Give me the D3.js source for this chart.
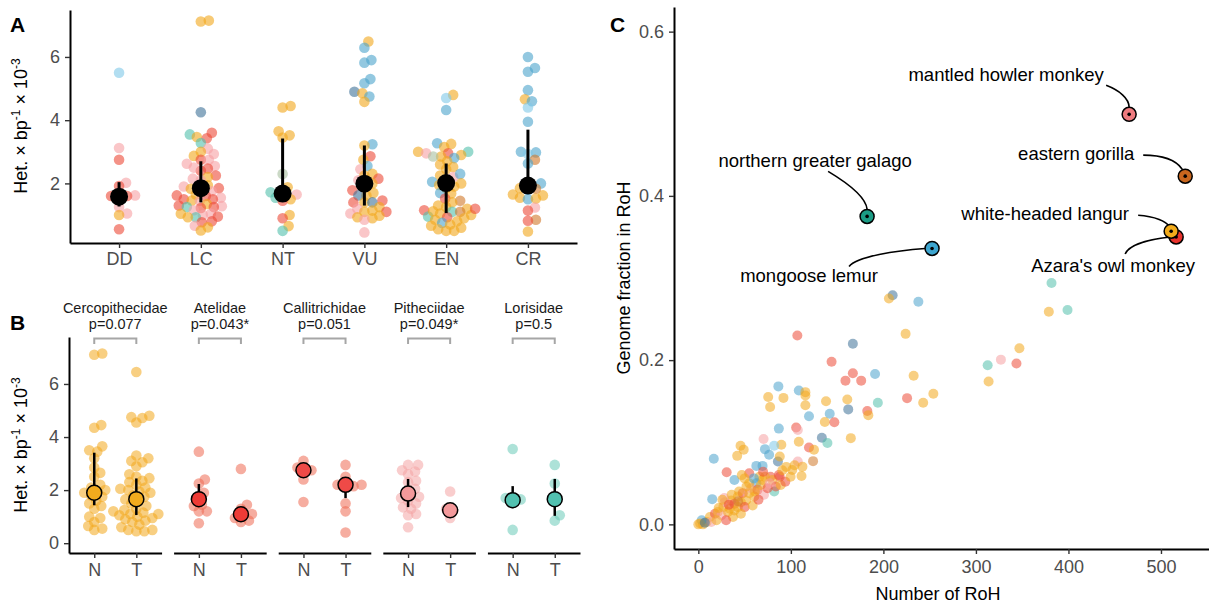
<!DOCTYPE html>
<html>
<head>
<meta charset="utf-8">
<script src="https://cdn.jsdelivr.net/npm/d3@7"></script>
<style>
  body { margin: 0; background: #fff; }
  svg { font-family: "Liberation Sans", Arial, Helvetica, sans-serif; }
</style>
</head>
<body>
<svg id="fig" width="1209" height="606"></svg>
<script>
// ---- data: panel A (heterozygosity by IUCN status) ----
const statusCats = ['DD', 'LC', 'NT', 'VU', 'EN', 'CR'];
const hetDD = [[5.5,'l'],[3.12,'p'],[2.75,'r'],[2.02,'p'],[1.92,'r'],[1.62,'p'],[1.6,'r'],[1.58,'p'],[1.6,'r'],[1.25,'p'],[1.05,'p'],[1.0,'o'],[0.55,'r']];
const hetLC = [[7.15,'o'],[7.12,'o'],[4.25,'d'],[3.6,'r'],[3.55,'t'],[3.47,'o'],[3.43,'r'],[3.28,'t'],[3.1,'p'],[3.0,'o'],[2.93,'p'],[2.87,'o'],[2.75,'r'],[2.75,'p'],[2.62,'p'],[2.55,'p'],[2.47,'r'],[2.4,'r'],[2.5,'p'],[2.25,'r'],[2.2,'o'],[2.15,'p'],[2.1,'p'],[1.94,'o'],[1.9,'p'],[1.85,'r'],[1.83,'o'],[1.8,'o'],[1.75,'p'],[1.62,'r'],[1.65,'o'],[1.6,'r'],[1.55,'p'],[1.5,'r'],[1.5,'r'],[1.46,'o'],[1.45,'p'],[1.35,'o'],[1.3,'r'],[1.28,'p'],[1.25,'r'],[1.25,'t'],[1.22,'r'],[1.15,'p'],[1.04,'p'],[1.04,'o'],[1.0,'p'],[0.93,'t'],[0.93,'o'],[0.95,'r'],[0.8,'r'],[0.77,'r'],[0.66,'p'],[0.61,'o'],[0.51,'o']];
const hetNT = [[4.45,'o'],[4.4,'o'],[3.65,'o'],[3.52,'o'],[3.45,'o'],[2.3,'g'],[1.88,'o'],[1.7,'r'],[1.72,'t'],[1.65,'p'],[1.55,'t'],[1.5,'o'],[1.45,'r'],[1.0,'o'],[0.9,'r'],[0.65,'o'],[0.5,'t']];
const hetVU = [[6.49,'o'],[6.29,'b'],[5.9,'b'],[5.82,'b'],[5.3,'b'],[5.17,'b'],[4.9,'d'],[4.85,'o'],[4.75,'b'],[4.58,'o'],[3.24,'b'],[3.2,'o'],[2.86,'r'],[2.75,'o'],[2.55,'b'],[2.45,'p'],[2.3,'o'],[2.25,'o'],[2.15,'r'],[2.1,'p'],[2.0,'o'],[1.95,'o'],[1.78,'r'],[1.7,'o'],[1.62,'o'],[1.62,'d'],[1.46,'r'],[1.4,'o'],[1.4,'d'],[1.4,'r'],[1.25,'o'],[1.2,'p'],[1.14,'o'],[1.1,'o'],[1.1,'r'],[1.05,'p'],[0.98,'o'],[0.93,'o'],[0.9,'o'],[0.85,'p'],[0.45,'p']];
const hetEN = [[4.8,'o'],[4.7,'l'],[4.32,'b'],[3.27,'b'],[3.25,'o'],[3.15,'o'],[3.0,'t'],[3.0,'o'],[2.95,'r'],[2.95,'p'],[2.9,'o'],[2.85,'o'],[2.85,'g'],[2.8,'b'],[2.7,'o'],[2.6,'o'],[2.52,'o'],[2.45,'o'],[2.2,'p'],[2.3,'b'],[2.25,'o'],[2.1,'o'],[2.05,'b'],[2.0,'o'],[1.95,'o'],[1.9,'o'],[1.85,'o'],[1.7,'b'],[1.68,'o'],[1.52,'r'],[1.45,'k'],[1.4,'o'],[1.3,'o'],[1.25,'o'],[1.2,'o'],[1.15,'r'],[1.1,'t'],[1.1,'k'],[1.05,'o'],[1.0,'o'],[0.95,'t'],[0.93,'r'],[0.9,'o'],[0.85,'o'],[0.8,'o'],[0.75,'b'],[0.7,'o'],[0.66,'o'],[0.6,'o'],[0.55,'o'],[0.5,'o'],[0.5,'o'],[1.12,'o'],[1.2,'r']];
const hetCR = [[6.0,'b'],[5.65,'b'],[5.53,'b'],[4.95,'b'],[4.66,'o'],[4.6,'b'],[4.4,'l'],[3.95,'b'],[3.0,'b'],[2.98,'b'],[2.93,'l'],[2.75,'k'],[2.63,'b'],[2.0,'b'],[1.85,'o'],[1.83,'k'],[1.8,'b'],[1.65,'o'],[1.62,'o'],[1.55,'o'],[1.5,'b'],[1.52,'o'],[1.24,'p'],[1.14,'r'],[0.85,'k'],[0.82,'r'],[0.48,'o']];
const statusMean = [1.58, 1.85, 1.68, 1.99, 2.01, 1.93];
const statusLo = [1.27, 1.4, 1.5, 1.3, 1.06, 1.7];
const statusHi = [2.04, 2.7, 3.42, 3.2, 2.63, 3.7];
const yTicksA = [2, 4, 6];

// ---- data: panel B (N vs T by family) ----
const famNames = ['Cercopithecidae', 'Atelidae', 'Callitrichidae', 'Pitheciidae', 'Lorisidae'];
const famP = ['p=0.077', 'p=0.043*', 'p=0.051', 'p=0.049*', 'p=0.5'];
const groupsB = ['N', 'T'];
const cercN = [7.15,7.1,4.45,4.35,3.65,3.5,3.45,3.2,2.85,2.65,2.5,2.2,2.1,2.0,1.95,1.9,1.8,1.75,1.6,1.5,1.4,1.3,1.0,0.95,0.8,0.65,0.55,0.5];
const cercT = [6.45,4.8,4.75,4.72,4.55,3.3,3.2,3.1,3.05,2.9,2.6,2.5,2.45,2.35,2.3,2.2,2.1,2.05,2.0,1.95,1.9,1.8,1.75,1.65,1.6,1.5,1.4,1.3,1.25,1.2,1.15,1.1,1.1,1.05,1.0,0.95,0.9,0.85,0.8,0.7,0.6,0.5,0.45,0.45,0.5];
const ateN = [3.45,2.4,2.25,1.9,1.7,1.45,1.4,1.2,1.2,0.75];
const ateT = [2.8,1.45,1.3,1.1,1.05,0.95,0.85,0.8];
const calN = [3.1,2.85,2.75,2.7,2.4,1.55];
const calT = [2.95,2.5,2.2,2.15,2.2,2.15,1.5,1.2,0.4];
const pitN = [2.95,2.95,2.75,2.7,2.6,2.35,2.3,2.05,1.95,1.75,1.7,1.6,1.5,1.35,1.3,1.1,1.05,0.6];
const pitT = [1.95,1.3,1.2,0.95];
const lorN = [3.55,1.7,1.65,1.6,0.5];
const lorT = [2.95,2.25,1.05,0.85];
const famMean = [[1.9,1.66],[1.66,1.09],[2.75,2.2],[1.87,1.24],[1.62,1.66]];
const famLo = [[1.43,1.06],[1.37,0.95],[2.6,1.7],[1.36,1.15],[1.32,1.03]];
const famHi = [[3.41,2.44],[2.23,1.2],[2.9,2.35],[2.42,1.35],[2.15,2.42]];
const yTicksB = [0, 2, 4, 6];

// ---- data: panel C (number of RoH vs genome fraction) ----
const rohPts = [
  [381.7,0.294,'t'],[210,0.279,'d'],[206,0.275,'o'],[237.8,0.271,'b'],[378.8,0.259,'o'],[399,0.261,'t'],
  [347,0.2144,'o'],[327,0.2006,'p'],[312.7,0.1937,'t'],[343.8,0.1958,'r'],[232.7,0.181,'o'],[313.7,0.174,'o'],
  [225.6,0.1537,'r'],[243,0.148,'o'],[254,0.159,'o'],[224,0.232,'o'],
  [107,0.230,'r'],[167,0.220,'d'],[144,0.198,'r'],[167,0.184,'r'],[159,0.175,'r'],[176,0.175,'r'],[191,0.183,'b'],
  [86.5,0.168,'b'],[108.6,0.163,'b'],[115.7,0.161,'o'],[115.7,0.157,'o'],[75.5,0.155,'o'],[92,0.154,'o'],[77.6,0.143,'o'],
  [115.7,0.145,'o'],[138,0.150,'o'],[161,0.152,'o'],[162,0.140,'d'],[194,0.148,'t'],[182.6,0.138,'r'],[183.7,0.133,'o'],
  [142,0.1346,'b'],[119.6,0.1317,'b'],[136.7,0.1247,'o'],[147,0.1243,'r'],[87,0.1166,'b'],[105.7,0.118,'r'],[107.5,0.115,'p'],
  [70.5,0.104,'p'],[133.5,0.1055,'d'],[139.5,0.099,'t'],[108.6,0.1006,'o'],[164.8,0.105,'o'],[45.6,0.0957,'o'],[49,0.091,'o'],
  [42,0.0834,'o'],[89.7,0.097,'o'],[72,0.0916,'b'],[81.9,0.0957,'l'],[76.5,0.0847,'b'],[119.6,0.0937,'r'],[125,0.0908,'o'],
  [124,0.077,'k'],[16.7,0.0798,'b'],[86,0.0765,'d'],[88,0.0826,'o'],[30.6,0.0634,'r'],[62.7,0.0712,'b'],[69.4,0.0712,'b'],
  [107.5,0.0765,'p'],[101.5,0.0663,'o'],[112.5,0.0703,'o'],[111.5,0.0589,'o'],[39,0.054,'b'],[55,0.0622,'r'],[47,0.060,'o'],
  [78,0.058,'r'],[88,0.058,'r'],[66,0.058,'o'],[72,0.058,'o'],[62.7,0.05,'b'],[82,0.04,'t'],[15,0.0307,'b'],
  [5,0,'o'],[9,0.003,'o'],[3.6,0.005,'b'],[12.5,0.009,'o'],[18,0.013,'r'],[21,0.015,'o'],[27,0.021,'o'],[28.5,0.027,'p'],
  [34,0.019,'o'],[35.6,0.029,'o'],[39,0.025,'r'],[42.7,0.034,'o'],[46,0.027,'o'],[48,0.038,'r'],[51.6,0.029,'o'],[55,0.038,'o'],
  [57,0.044,'p'],[60.5,0.034,'o'],[64,0.042,'r'],[67.6,0.048,'o'],[71,0.036,'p'],[69.4,0.054,'o'],[74.8,0.044,'r'],[80,0.054,'o'],
  [83.7,0.046,'r'],[89,0.048,'o'],[87,0.06,'r'],[90.8,0.066,'o'],[94,0.052,'r'],[99.7,0.058,'o'],[42.7,0.021,'o'],[14,0.003,'p'],
  [25,0.011,'p'],[32,0.015,'o'],[39,0.017,'o'],[50,0.021,'r'],[58.7,0.023,'o'],[37.4,0.009,'o'],[30,0.005,'r'],[19.6,0.005,'o'],
  [46,0.013,'o'],[0,0,'o'],[2,0.001,'o'],[7,0.002,'d'],[22,0.02,'o'],[28,0.032,'p'],[44,0.04,'o'],[52,0.046,'o'],[61,0.04,'o'],
  [65,0.03,'r'],[77,0.05,'p'],[95,0.07,'o'],[104,0.072,'o'],[55,0.05,'o'],[36,0.036,'o'],[26,0.03,'o'],[43,0.028,'k'],
  [33,0.024,'r'],[60,0.056,'b'],[70,0.064,'r'],[50,0.056,'o']
];
const hlNames = ['northern greater galago', 'mongoose lemur', 'mantled howler monkey', 'eastern gorilla', "Azara's owl monkey", 'white-headed langur'];
const hlRoh = [182.4, 252.6, 465.6, 526.2, 516.4, 511.0];
const hlFrac = [0.375, 0.336, 0.4993, 0.424, 0.350, 0.357];
const xTicksC = [0, 100, 200, 300, 400, 500];
const yTicksC = [0, 0.2, 0.4, 0.6];

// ---- styles ----
const famCol = { o: '#F2A71B', r: '#EC4A37', p: '#F6A0A3', t: '#52C0AC', b: '#4BA3CC', d: '#3E7197', k: '#D0782A', g: '#A9BFA0', l: '#7EC8E8' };
const bPointCol = ['#F2A71B', '#EE6A52', '#EE6A52', '#F4A4A4', '#6ACAB8'];
const bMeanCol = ['#F2AB1E', '#EE3B36', '#EF4A47', '#F4999B', '#52C1B0'];
const hlCol = { 'northern greater galago': '#1B9C85', 'mongoose lemur': '#3DA5CF', 'mantled howler monkey': '#EE7B7F', 'eastern gorilla': '#C8661E', "Azara's owl monkey": '#E8322C', 'white-headed langur': '#F2AB1B' };
// label offsets (px) relative to the point, and leader bezier control points
const hlLayout = {
  'mantled howler monkey': { tx: -123, ty: -33, seg: [[-23,-29],[-10,-24],[0,-16],[0,-7]] },
  'eastern gorilla': { tx: -109, ty: -16, seg: [[-42,-21],[-22,-21],[-10,-17],[-3,-7]] },
  'northern greater galago': { tx: -52, ty: -49, seg: [[-39,-45],[-14,-30],[-1,-18],[0,-7]] },
  'mongoose lemur': { tx: -123, ty: 34, seg: [[-83,18],[-75,8],[-36,2],[-7,0]] },
  'white-headed langur': { tx: -126, ty: -11, seg: [[-33,-16],[-15,-15],[-5,-9],[-3,-6]] },
  "Azara's owl monkey": { tx: -63, ty: 35, seg: [[-51,17],[-47,7],[-24,2],[-6,0]] }
};
const FS = 18;

const svg = d3.select('#fig');

function styleAxis(g) {
  g.attr('font-size', null).attr('font-family', null);
  g.select('.domain').attr('stroke', '#000').attr('stroke-width', 2);
  g.selectAll('.tick line').attr('stroke', '#333').attr('stroke-width', 1.4);
  g.selectAll('.tick text').attr('fill', '#4d4d4d').style('font-size', FS + 'px');
}

// deterministic beeswarm: x offsets in px so that points spread sideways
function swarm(vals, y, minDist) {
  const order = d3.range(vals.length).sort((a, b) => vals[a] - vals[b]);
  const placed = [], off = new Array(vals.length).fill(0);
  order.forEach(i => {
    const yi = y(vals[i]);
    for (let k = 0; k < 120; k++) {
      const c = (k % 2 ? 1 : -1) * Math.ceil(k / 2);
      if (placed.every(p => Math.hypot(p[0] - c, p[1] - yi) >= minDist)) { off[i] = c; break; }
    }
    placed.push([off[i], yi]);
  });
  return off;
}

function panelLabel(t, x, y) {
  svg.append('text').attr('x', x).attr('y', y).attr('font-size', 21).attr('font-weight', 'bold').text(t);
}

function hetTitle(x, y) {
  const t = svg.append('text').attr('transform', `translate(${x},${y}) rotate(-90)`)
    .attr('text-anchor', 'middle').attr('font-size', FS).attr('fill', '#000');
  t.append('tspan').text('Het. × bp');
  t.append('tspan').attr('font-size', 12).attr('dy', -7).text('-1');
  t.append('tspan').attr('dy', 7).text(' × 10');
  t.append('tspan').attr('font-size', 12).attr('dy', -7).text('-3');
}

// ================= Panel A =================
(() => {
  const x = d3.scalePoint(statusCats, [70, 577]).padding(0.6);
  const y = d3.scaleLinear([0.115, 7.485], [243, 10]);
  const sets = [hetDD, hetLC, hetNT, hetVU, hetEN, hetCR];
  const g = svg.append('g');
  sets.forEach((arr, ci) => {
    const off = swarm(arr.map(d => d[0]), y, 7.2);
    g.append('g').selectAll('circle').data(arr).join('circle')
      .attr('cx', (d, i) => x(statusCats[ci]) + off[i]).attr('cy', d => y(d[0])).attr('r', 5.3)
      .attr('fill', d => famCol[d[1]]).attr('fill-opacity', 0.6);
  });
  g.append('g').selectAll('line').data(statusCats).join('line')
    .attr('x1', d => x(d)).attr('x2', d => x(d))
    .attr('y1', (d, i) => y(statusLo[i])).attr('y2', (d, i) => y(statusHi[i]))
    .attr('stroke', '#000').attr('stroke-width', 3);
  g.append('g').selectAll('circle').data(statusCats).join('circle')
    .attr('cx', d => x(d)).attr('cy', (d, i) => y(statusMean[i])).attr('r', 9).attr('fill', '#000');
  svg.append('g').attr('transform', 'translate(70,0)')
    .call(d3.axisLeft(y).tickValues(yTicksA).tickSize(5).tickPadding(5).tickSizeOuter(0)).call(styleAxis);
  svg.append('g').attr('transform', 'translate(0,243)')
    .call(d3.axisBottom(x).tickSize(5).tickPadding(4).tickSizeOuter(0)).call(styleAxis);
  hetTitle(27, 126);
  panelLabel('A', 10, 32);
})();

// ================= Panel B =================
(() => {
  const y = d3.scaleLinear([-0.37, 7.77], [553, 337]);
  const pts = [[cercN, cercT], [ateN, ateT], [calN, calT], [pitN, pitT], [lorN, lorT]];
  const x0s = d3.scaleBand(famNames, [69, 580]).paddingInner(0.115);
  famNames.forEach((f, fi) => {
    const left = x0s(f), w = x0s.bandwidth();
    const x = d3.scalePoint(groupsB, [left, left + w]).padding(0.6);
    const g = svg.append('g');
    groupsB.forEach((grp, gi) => {
      const vals = pts[fi][gi];
      const off = swarm(vals, y, 7.2);
      g.append('g').selectAll('circle').data(vals).join('circle')
        .attr('cx', (d, i) => x(grp) + off[i]).attr('cy', d => y(d)).attr('r', 5.3)
        .attr('fill', bPointCol[fi]).attr('fill-opacity', 0.55);
    });
    groupsB.forEach((grp, gi) => {
      g.append('line').attr('x1', x(grp)).attr('x2', x(grp))
        .attr('y1', y(famLo[fi][gi])).attr('y2', y(famHi[fi][gi]))
        .attr('stroke', '#000').attr('stroke-width', 2.5);
      g.append('circle').attr('cx', x(grp)).attr('cy', y(famMean[fi][gi])).attr('r', 7.5)
        .attr('fill', bMeanCol[fi]).attr('stroke', '#000').attr('stroke-width', 1.5);
    });
    // bracket
    g.append('path')
      .attr('d', `M${x('N')},344 V338.5 H${x('T')} V344`)
      .attr('fill', 'none').attr('stroke', '#A6A6A6').attr('stroke-width', 2);
    const st = svg.append('text').attr('text-anchor', 'middle').attr('font-size', 14.5).attr('fill', '#1a1a1a');
    st.append('tspan').attr('x', left + w / 2).attr('y', 313).text(f);
    st.append('tspan').attr('x', left + w / 2).attr('y', 329).text(famP[fi]);
    svg.append('g').attr('transform', 'translate(0,553)')
      .call(d3.axisBottom(x).tickSize(5).tickPadding(5).tickSizeOuter(0)).call(styleAxis);
    if (fi === 0) {
      svg.append('g').attr('transform', `translate(${left},0)`)
        .call(d3.axisLeft(y).tickValues(yTicksB).tickSize(5).tickPadding(5).tickSizeOuter(0)).call(styleAxis);
    }
  });
  hetTitle(27, 445);
  panelLabel('B', 10, 330);
})();

// ================= Panel C =================
(() => {
  const x = d3.scaleLinear([-26.3, 551.9], [674, 1209]);
  const y = d3.scaleLinear([-0.03, 0.63], [549, 7]);
  svg.append('g').selectAll('circle').data(rohPts).join('circle')
    .attr('cx', d => x(d[0])).attr('cy', d => y(d[1])).attr('r', 5)
    .attr('fill', d => famCol[d[2]]).attr('fill-opacity', 0.55);

  const hl = hlNames.map((n, i) => ({ n, px: x(hlRoh[i]), py: y(hlFrac[i]) }));
  hl.forEach(h => {
    const L = hlLayout[h.n], s = L.seg;
    const p = d3.path();
    p.moveTo(h.px + s[0][0], h.py + s[0][1]);
    p.bezierCurveTo(h.px + s[1][0], h.py + s[1][1], h.px + s[2][0], h.py + s[2][1], h.px + s[3][0], h.py + s[3][1]);
    svg.append('path').attr('d', p.toString()).attr('fill', 'none').attr('stroke', '#000').attr('stroke-width', 1.6);
    svg.append('text').attr('x', h.px + L.tx).attr('y', h.py + L.ty).attr('text-anchor', 'middle')
      .attr('font-size', 18.5).attr('fill', '#000').text(h.n);
  });
  hl.forEach(h => {
    svg.append('circle').attr('cx', h.px).attr('cy', h.py).attr('r', 7)
      .attr('fill', hlCol[h.n]).attr('stroke', '#000').attr('stroke-width', 1.5);
    svg.append('circle').attr('cx', h.px).attr('cy', h.py).attr('r', 1.8).attr('fill', '#000');
  });

  svg.append('g').attr('transform', 'translate(674,0)')
    .call(d3.axisLeft(y).tickValues(yTicksC).tickFormat(d3.format('.1f')).tickSize(5).tickPadding(5).tickSizeOuter(0)).call(styleAxis);
  svg.append('g').attr('transform', 'translate(0,549)')
    .call(d3.axisBottom(x).tickValues(xTicksC).tickSize(5).tickPadding(6).tickSizeOuter(0)).call(styleAxis);
  svg.append('text').attr('x', 938).attr('y', 600).attr('text-anchor', 'middle').attr('font-size', FS).text('Number of RoH');
  svg.append('text').attr('transform', 'translate(630,278) rotate(-90)').attr('text-anchor', 'middle')
    .attr('font-size', FS).text('Genome fraction in RoH');
  panelLabel('C', 610, 32);
})();
</script>
</body>
</html>
